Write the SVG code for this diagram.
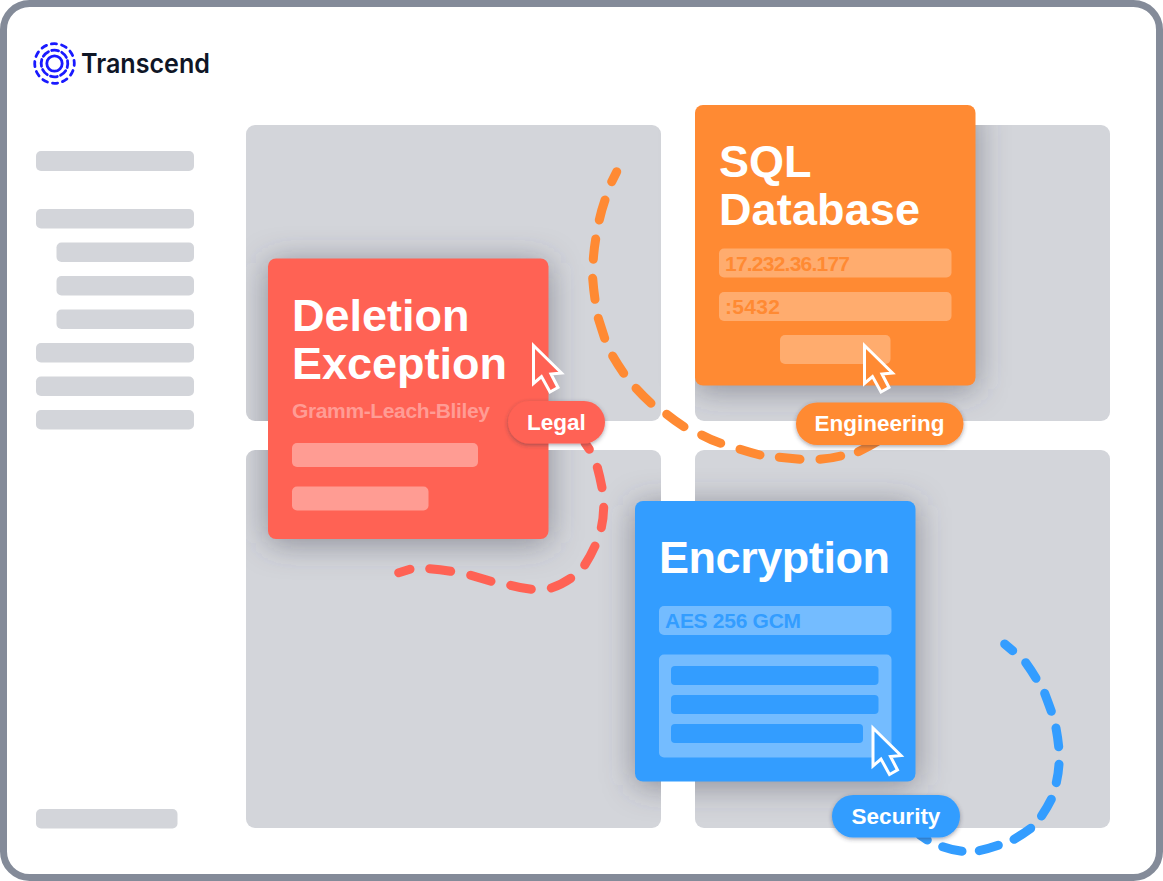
<svg xmlns="http://www.w3.org/2000/svg" width="1163" height="881" viewBox="0 0 1163 881">
<style>
.panel{fill:#d3d5da}
.side{fill:#d3d5da}
.t{font-family:"Liberation Sans",Arial,sans-serif;font-weight:700}
.title{fill:#fff;font-size:45px}
.lab{fill:#fff;font-size:22.500px}
.sub{font-size:21px}
.dash{fill:none;stroke-width:9;stroke-linecap:round}
.shadow{fill:#3f4454;fill-opacity:.5;filter:url(#cs)}
.pill{filter:url(#ps)}
.cur{stroke:#fff;stroke-width:3;stroke-linejoin:miter}
.w{fill:#fff}
.logo{fill:none;stroke:#1a1aff;stroke-width:2.800}
</style>
<defs>
<filter id="cs" x="-40%" y="-40%" width="180%" height="180%"><feGaussianBlur stdDeviation="16"/></filter>
<filter id="ps" x="-20%" y="-30%" width="140%" height="170%"><feDropShadow dx="0" dy="1.500" stdDeviation="2" flood-color="#303644" flood-opacity=".45"/></filter>
<clipPath id="panel-clip">
<rect x="246" y="125" width="415" height="296" rx="9"/>
<rect x="695" y="125" width="415" height="296" rx="9"/>
<rect x="246" y="450" width="415" height="378" rx="9"/>
<rect x="695" y="450" width="415" height="378" rx="9"/>
</clipPath>
<path id="arrow" d="M0 0V38L8 31L16.500 46.500L24.500 42L17.500 28.500L28 27.500Z"/>
</defs>
<rect x="3.500" y="3.500" width="1156" height="874" rx="26" fill="#fff" stroke="#848b99" stroke-width="7"/>
<g id="logo">
<circle class="logo" cx="54.500" cy="63.500" r="7.700"/>
<circle class="logo" cx="54.500" cy="63.500" r="13.300" pathLength="8" stroke-dasharray=".66 .34" stroke-linecap="round" transform="rotate(-12 54.500 63.500)"/>
<circle class="logo" cx="54.500" cy="63.500" r="19.800" pathLength="12" stroke-dasharray=".5 .5" stroke-linecap="round" transform="rotate(-9 54.500 63.500)"/>
<text x="81" y="73" font-family="Inter,'Liberation Sans',sans-serif" font-weight="600" font-size="26.500" fill="#0f1626" textLength="129" lengthAdjust="spacingAndGlyphs">Transcend</text>
</g>
<g id="sidebar">
<rect class="side" x="36" y="151" width="158" height="20" rx="5"/>
<rect class="side" x="36" y="209" width="158" height="19.500" rx="5"/>
<rect class="side" x="56.500" y="242.500" width="137.500" height="19.500" rx="5"/>
<rect class="side" x="56.500" y="276" width="137.500" height="19.500" rx="5"/>
<rect class="side" x="56.500" y="309.500" width="137.500" height="19.500" rx="5"/>
<rect class="side" x="36" y="343" width="158" height="19.500" rx="5"/>
<rect class="side" x="36" y="376.500" width="158" height="19.500" rx="5"/>
<rect class="side" x="36" y="410" width="158" height="19.500" rx="5"/>
<rect class="side" x="36" y="809" width="141.500" height="19.500" rx="5"/>
</g>
<g id="panels">
<rect class="panel" x="246" y="125" width="415" height="296" rx="9"/>
<rect class="panel" x="695" y="125" width="415" height="296" rx="9"/>
<rect class="panel" x="246" y="450" width="415" height="378" rx="9"/>
<rect class="panel" x="695" y="450" width="415" height="378" rx="9"/>
</g>
<g id="card-shadows" clip-path="url(#panel-clip)">
<rect class="shadow" x="268" y="262.500" width="280.500" height="280.500" rx="8"/>
<rect class="shadow" x="695" y="109" width="280.500" height="280.500" rx="8"/>
<rect class="shadow" x="635" y="505" width="280.500" height="280.500" rx="8"/>
</g>
<g id="connectors">
<path class="dash" stroke="#ff8a33" d="M616.700 171.700L611.700 181.700M605 200Q601.500 210 599.300 220M595.700 239Q594 249 593.300 259.300M592.700 278.300Q593.500 289 595 299.300M598.300 318.300L604.700 338.300M612.700 356Q618 365 623.700 373.300M636 388.300Q643 396 651 403.300M666.700 414.300Q675 421 684 426.700M701.700 435Q711 440 720.700 443.300M740 449.300Q750 452.500 760 455M779.300 457.300L800 459.300M820 459.300Q831 458.500 840.700 456M858.300 451.700Q870 446 880 440"/>
<path class="dash" stroke="#ff6254" d="M585 443L589.300 449.300M597.300 467.300Q600 477 602 487.700M603.700 507.300Q603.500 518 601.300 527.700M595 546Q590.500 556 584.700 565M570.700 578.300Q561 585 551.300 588M531.300 589.300Q521 588 510.700 585.300M491 581.300L470.700 575.300M450.700 571.300Q440 569.500 429.700 568.700M410 569.300L398.700 572.700"/>
<path class="dash" stroke="#339dff" d="M1004.700 644L1012.700 650.700M1025.700 662.700Q1031 670 1036 678.300M1044.700 693.300Q1048 702 1051.300 711.300M1056 728Q1057.700 737 1058.700 746.700M1059 764.300Q1058.500 773 1056.300 782.700M1051.300 799.300Q1047 808 1041.500 816M1030.700 828.300Q1023 834 1014 839.300M998.300 845.300Q989 848.500 979.300 850.700M962 851.300Q952 850 942.700 846.700M927.300 840L920 835"/>
</g>
<g id="card-deletion">
<rect x="268" y="258.500" width="280.500" height="280.500" rx="8" fill="#ff6254"/>
<text class="t title" x="292" y="331">Deletion</text>
<text class="t title" x="292" y="379">Exception</text>
<text class="t sub" x="292" y="417.500" fill="#ff9c94" textLength="198">Gramm-Leach-Bliley</text>
<rect class="w" opacity=".37" x="292" y="443" width="186" height="24" rx="5"/>
<rect class="w" opacity=".37" x="292" y="486.500" width="136.500" height="24" rx="5"/>
</g>
<g id="card-sql">
<rect x="695" y="105" width="280.500" height="280.500" rx="8" fill="#ff8a33"/>
<text class="t title" x="719" y="177">SQL</text>
<text class="t title" x="719" y="225" textLength="201">Database</text>
<rect class="w" opacity=".29" x="719" y="248.500" width="232.500" height="29" rx="5"/>
<rect class="w" opacity=".29" x="719" y="292" width="232.500" height="29" rx="5"/>
<rect class="w" opacity=".29" x="780" y="335" width="110.500" height="29" rx="5"/>
<text class="t sub" x="725" y="271" fill="#ff8a33" textLength="125">17.232.36.177</text>
<text class="t sub" x="725" y="314" fill="#ff8a33" textLength="55">:5432</text>
</g>
<g id="card-encryption">
<rect x="635" y="501" width="280.500" height="280.500" rx="8" fill="#339dff"/>
<text class="t title" x="659" y="573" textLength="231">Encryption</text>
<rect class="w" opacity=".32" x="659" y="606" width="232.500" height="29" rx="5"/>
<text class="t sub" x="665" y="628" fill="#339dff" textLength="136">AES 256 GCM</text>
<rect class="w" opacity=".32" x="659" y="654.500" width="232.500" height="103" rx="5"/>
<rect x="671" y="666" width="207.500" height="19" rx="4" fill="#339dff"/>
<rect x="671" y="695" width="207.500" height="19" rx="4" fill="#339dff"/>
<rect x="671" y="724" width="192" height="19" rx="4" fill="#339dff"/>
</g>
<g id="cursors">
<use href="#arrow" class="cur" x="533.500" y="345.500" fill="#ff6254"/>
<use href="#arrow" class="cur" x="864.500" y="345.500" fill="#ff8a33"/>
<use href="#arrow" class="cur" x="873" y="728" fill="#339dff"/>
</g>
<g id="pill-legal">
<rect class="pill" x="508" y="401" width="97" height="42.500" rx="21.250" fill="#ff6254"/>
<text class="t lab" x="556.500" y="430" text-anchor="middle">Legal</text>
</g>
<g id="pill-engineering">
<rect class="pill" x="796" y="402.500" width="167.500" height="42.500" rx="21.250" fill="#ff8a33"/>
<text class="t lab" x="879.500" y="431" text-anchor="middle">Engineering</text>
</g>
<g id="pill-security">
<rect class="pill" x="832" y="795" width="128" height="42.500" rx="21.250" fill="#339dff"/>
<text class="t lab" x="896" y="824" text-anchor="middle">Security</text>
</g>
</svg>
